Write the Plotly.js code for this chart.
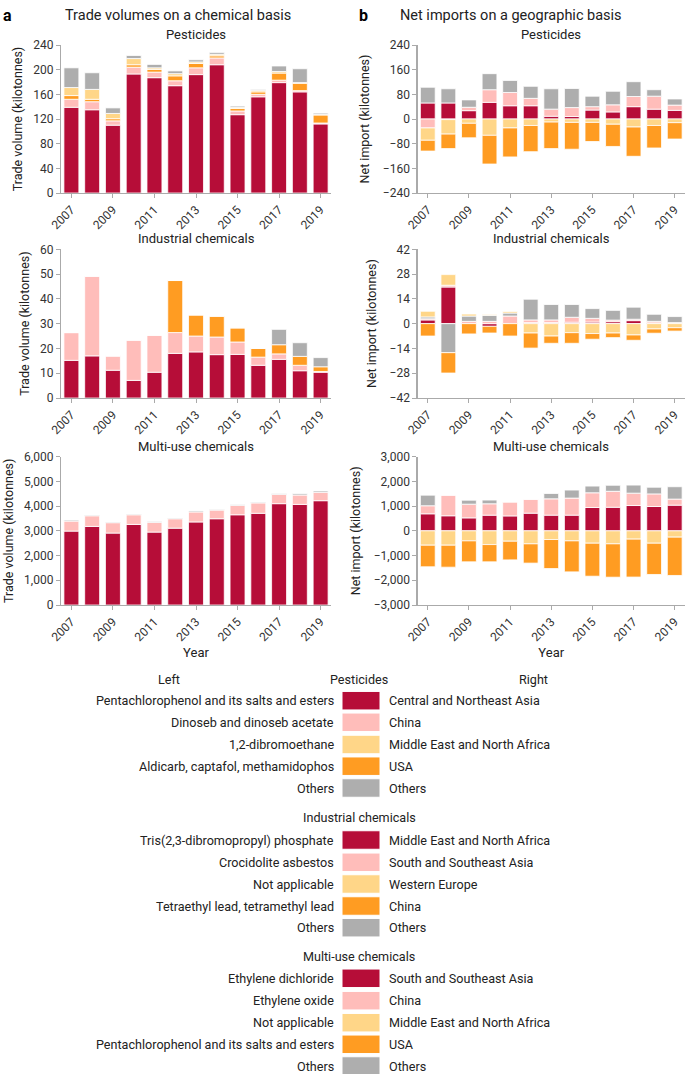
<!DOCTYPE html>
<html><head><meta charset="utf-8">
<script src="https://cdn.plot.ly/plotly-3.0.1.min.js"></script>
<style>html,body{margin:0;padding:0;background:#fff}#chart{width:685px;height:1074px}</style>
</head><body><div id="chart"></div><script>
// ---------- DATA ----------
const years = [2007,2008,2009,2010,2011,2012,2013,2014,2015,2016,2017,2018,2019];

// a: Trade volumes, Pesticides (kilotonnes)
const pestL_red    = [139,135,110,193,187,174,192,208,127,156,179,164,112];
const pestL_pink   = [13,13,7,11,9,8,11,11,6,4,4,2,1.5];
const pestL_orange = [6,4,3.5,4,4.5,8,7,3.5,4,4,11.5,12,13];
const pestL_yellow = [13,16,8.5,10,2.5,3.5,2.5,2.5,2,2.5,2.5,1,1];
const pestL_grey   = [32,27,9,5,5.5,4.5,3.5,3,2,1.5,9,22.5,2];

// b: Net imports, Pesticides
const pestR_red    = [52,52,27,54,43,43,9,8,29,23,40,32,28];
const pestR_pink   = [-29,-2,11,41,43,24,23,29,11,23,33,42,17];
const pestR_grey   = [51,46,24,52,39,39,66,62,34,44,48,21,20];
const pestR_yellow = [-40,-47,-14,-53,-29,-21,-10,-11,-11,-17,-26,-21,-12];
const pestR_orange = [-35,-47,-47,-93,-94,-85,-86,-87,-62,-72,-95,-73,-53];

// a: Industrial chemicals
const indL_red    = [15.2,17,11.2,7.1,10.4,18,18.6,17.5,17.6,13.2,15.6,11,10.4];
const indL_pink   = [11.2,32.2,5.8,16.3,15,8.4,6.4,7.1,5,3.3,2.2,2.2,0.3];
const indL_orange = [0,0,0,0,0,21,8.5,8.4,5.7,3.5,3.7,3.6,1.9];
const indL_grey   = [0,0,0,0,0,0,0,0,0,0,6.2,5.5,3.7];

// b: Industrial chemicals
const indR_red    = [2.1,20.7,0,-1.5,0,0.6,0.6,0.8,0.9,1.1,1.7,0.4,0];
const indR_pink   = [0.6,1,1.3,1.3,4.3,1.5,1.5,2.8,2.1,0.9,0.8,0.9,0.6];
const indR_grey   = [1.1,-16.4,3,3.4,1.7,11.7,8.7,7.2,5.5,5.5,6.8,4,3.4];
const indR_yellow = [3.2,6,1.1,0.4,0.9,-5.3,-7,-5.1,-5.6,-5.3,-6.4,-3,-2.3];
const indR_orange = [-7,-11.5,-5.8,-3.8,-7,-8.5,-4.1,-6,-3.2,-2.6,-3,-2.4,-1.9];

// a: Multi-use chemicals
const multiL_red  = [2990,3180,2910,3260,2950,3110,3360,3490,3650,3710,4100,4070,4220];
const multiL_pink = [405,430,420,390,390,380,405,350,380,420,375,380,340];
const multiL_grey = [40,27,27,27,40,27,40,27,27,27,27,54,54];

// b: Multi-use chemicals
const multiR_red    = [690,610,525,635,605,715,635,635,945,955,1025,985,1040];
const multiR_pink   = [325,835,555,460,565,565,660,690,595,645,500,510,245];
const multiR_grey   = [430,0,160,150,0,0,215,325,270,245,325,270,500];
const multiR_yellow = [-580,-580,-405,-555,-420,-525,-350,-405,-500,-525,-335,-500,-255];
const multiR_orange = [-875,-890,-850,-700,-755,-780,-1175,-1255,-1335,-1350,-1535,-1265,-1550];

// Legend labels
const legendHeaders = ["Pesticides","Industrial chemicals","Multi-use chemicals"];
const legendLeft = [
  ["Pentachlorophenol and its salts and esters","Dinoseb and dinoseb acetate","1,2-dibromoethane","Aldicarb, captafol, methamidophos","Others"],
  ["Tris(2,3-dibromopropyl) phosphate","Crocidolite asbestos","Not applicable","Tetraethyl lead, tetramethyl lead","Others"],
  ["Ethylene dichloride","Ethylene oxide","Not applicable","Pentachlorophenol and its salts and esters","Others"]
];
const legendRight = [
  ["Central and Northeast Asia","China","Middle East and North Africa","USA","Others"],
  ["Middle East and North Africa","South and Southeast Asia","Western Europe","China","Others"],
  ["South and Southeast Asia","China","Middle East and North Africa","USA","Others"]
];
const panelTitles = ["Pesticides","Industrial chemicals","Multi-use chemicals"];

// ---------- STYLE ----------
const C = {red:"#B60D38", pink:"#FFBDBA", yellow:"#FFD688", orange:"#FF9C22", grey:"#AEAEAE"};
const legendColors = [C.red, C.pink, C.yellow, C.orange, C.grey];
const W = 685, H = 1074;
const FONT = "Roboto, 'Liberation Sans', Arial, sans-serif";
const px = v => v / W;
const py = v => 1 - v / H;

const traces = [];
function addBars(xa, ya, list) {
  list.forEach(([vals, col]) => {
    traces.push({type:"bar", x: years, y: vals, xaxis: xa, yaxis: ya,
      marker:{color: col, line:{color:"#ffffff", width:0.8}},
      showlegend:false, hoverinfo:"x+y"});
  });
}
addBars("x","y",   [[pestL_red,C.red],[pestL_pink,C.pink],[pestL_orange,C.orange],[pestL_yellow,C.yellow],[pestL_grey,C.grey]]);
addBars("x2","y2", [[pestR_red,C.red],[pestR_pink,C.pink],[pestR_grey,C.grey],[pestR_yellow,C.yellow],[pestR_orange,C.orange]]);
addBars("x3","y3", [[indL_red,C.red],[indL_pink,C.pink],[indL_orange,C.orange],[indL_grey,C.grey]]);
addBars("x4","y4", [[indR_red,C.red],[indR_pink,C.pink],[indR_grey,C.grey],[indR_yellow,C.yellow],[indR_orange,C.orange]]);
addBars("x5","y5", [[multiL_red,C.red],[multiL_pink,C.pink],[multiL_grey,C.grey]]);
addBars("x6","y6", [[multiR_red,C.red],[multiR_pink,C.pink],[multiR_grey,C.grey],[multiR_yellow,C.yellow],[multiR_orange,C.orange]]);

const colDom = [[px(61), px(331)], [px(417.5), 1]];
const rowDom = [[py(193), py(45)], [py(398), py(249.3)], [py(605), py(456.7)]];
const yRanges = [[[0,240],40,[-240,240],80],[[0,60],10,[-42,42],14],[[0,6000],1000,[-3000,3000],1000]];

const layout = {
  width: W, height: H, margin:{l:0,r:0,t:0,b:0},
  paper_bgcolor:"#fff", plot_bgcolor:"#fff",
  barmode:"relative", bargap:0.28,
  font:{family:FONT, size:12, color:"#333"},
  showlegend:false, annotations:[], shapes:[]
};

const axisBase = {showgrid:false, zeroline:false, showline:true, linecolor:"#aaa", linewidth:1.2,
  ticks:"outside", ticklen:4, tickcolor:"#aaa", tickfont:{family:FONT, size:12, color:"#333"}};

let k = 1;
for (let r = 0; r < 3; r++) {
  for (let c = 0; c < 2; c++) {
    const xn = k === 1 ? "xaxis" : "xaxis" + k;
    const yn = k === 1 ? "yaxis" : "yaxis" + k;
    const yid = k === 1 ? "y" : "y" + k;
    const xid = k === 1 ? "x" : "x" + k;
    const rng = c === 0 ? yRanges[r][0] : yRanges[r][2];
    const dt = c === 0 ? yRanges[r][1] : yRanges[r][3];
    layout[xn] = Object.assign({}, axisBase, {
      domain: colDom[c], anchor: yid, range:[2006.5, 2019.5],
      tickmode:"linear", tick0:2007, dtick:2, tickangle:-45,
      title: r === 2 ? {text:"Year", font:{family:FONT, size:13, color:"#222"}, standoff:4} : {text:""}
    });
    layout[yn] = Object.assign({}, axisBase, {
      domain: rowDom[r], anchor: xid, range: rng, tickmode:"linear", tick0: rng[0], dtick: dt,
      tickformat: r === 2 ? ",d" : "",
      title:{text: c === 0 ? "Trade volume (kilotonnes)" : "Net import (kilotonnes)",
        font:{family:FONT, size:12.5, color:"#222"}, standoff: c === 0 ? 7 : 10}
    });
    layout.annotations.push({xref:"paper", yref:"paper", x:(colDom[c][0]+colDom[c][1])/2,
      y: rowDom[r][1] + 1/H, yanchor:"bottom", xanchor:"center", showarrow:false,
      text: panelTitles[r], font:{family:FONT, size:13, color:"#222"}});
    k++;
  }
}

// panel letters and headings
layout.annotations.push(
  {xref:"paper", yref:"paper", x:px(1), y:py(15), xanchor:"left", yanchor:"middle", showarrow:false,
   text:"<b>a</b>", font:{family:FONT, size:16, color:"#000"}},
  {xref:"paper", yref:"paper", x:px(178), y:py(15), xanchor:"center", yanchor:"middle", showarrow:false,
   text:"Trade volumes on a chemical basis", font:{family:FONT, size:14.5, color:"#222"}},
  {xref:"paper", yref:"paper", x:px(357), y:py(15), xanchor:"left", yanchor:"middle", showarrow:false,
   text:"<b>b</b>", font:{family:FONT, size:16, color:"#000"}},
  {xref:"paper", yref:"paper", x:px(511), y:py(15), xanchor:"center", yanchor:"middle", showarrow:false,
   text:"Net imports on a geographic basis", font:{family:FONT, size:14.5, color:"#222"}}
);

// legend block
const headerY = [679, 817.3, 956.7];
const rowY = [[700.7,722.3,744.5,766.2,788],[840,862.3,884,906,927.7],[978.3,1000.7,1022.7,1044.3,1066]];
const swX0 = 342, swX1 = 380, swH = 18.5, leftEnd = 336, rightStart = 387;
const LF = {family:FONT, size:12.6, color:"#222"};
layout.annotations.push(
  {xref:"paper", yref:"paper", x:px(169), y:py(679), xanchor:"center", yanchor:"middle", showarrow:false,
   text:"Left", font:LF},
  {xref:"paper", yref:"paper", x:px(533), y:py(679), xanchor:"center", yanchor:"middle", showarrow:false,
   text:"Right", font:LF}
);
for (let g = 0; g < 3; g++) {
  layout.annotations.push({xref:"paper", yref:"paper", x:px(359), y:py(headerY[g]), xanchor:"center", yanchor:"middle",
    showarrow:false, text: legendHeaders[g], font:LF});
  for (let i = 0; i < 5; i++) {
    const yc = rowY[g][i];
    layout.shapes.push({type:"rect", xref:"paper", yref:"paper", x0:px(swX0), x1:px(swX1),
      y0:py(yc + swH/2), y1:py(yc - swH/2), fillcolor:legendColors[i], line:{color:"#fff", width:1}});
    layout.annotations.push({xref:"paper", yref:"paper", x:px(leftEnd), y:py(yc), xanchor:"right", yanchor:"middle",
      showarrow:false, text: legendLeft[g][i], font:LF});
    layout.annotations.push({xref:"paper", yref:"paper", x:px(rightStart), y:py(yc), xanchor:"left", yanchor:"middle",
      showarrow:false, text: legendRight[g][i], font:LF});
  }
}

Plotly.newPlot("chart", traces, layout, {staticPlot:true, displayModeBar:false});
</script></body></html>
